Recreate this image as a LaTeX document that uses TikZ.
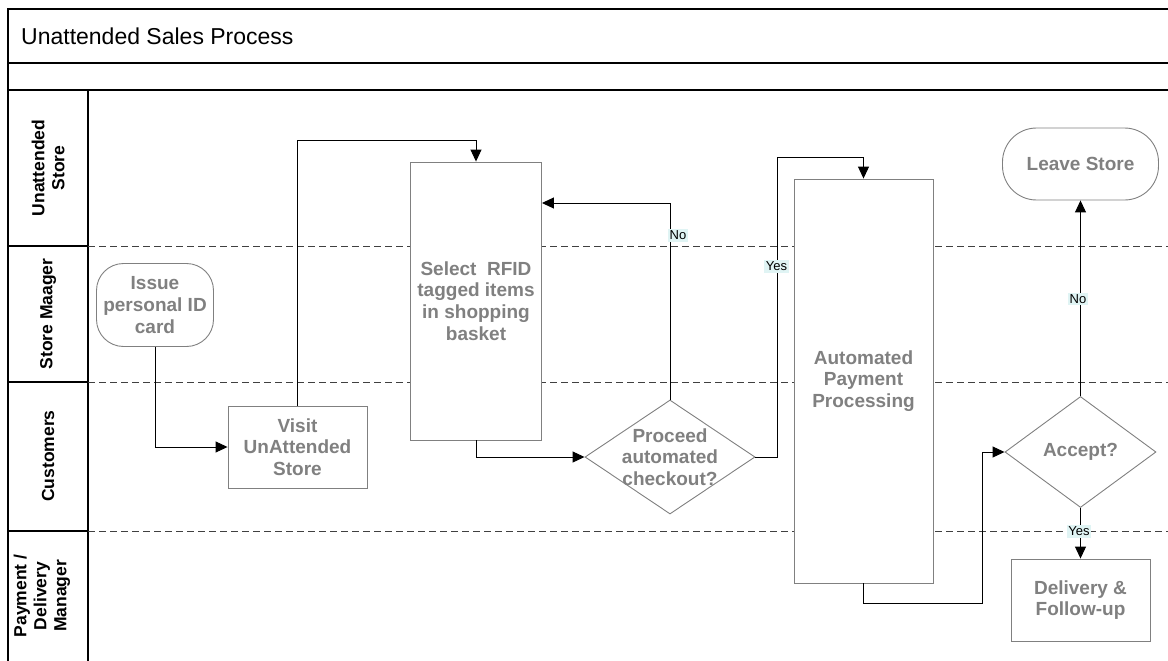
\documentclass[tikz,border=0pt]{standalone}
\usepackage{fontspec}
\setmainfont{Liberation Sans}
\usetikzlibrary{arrows.meta,shapes.geometric}
\definecolor{boxgray}{RGB}{128,128,128}
\definecolor{txtgray}{RGB}{128,128,128}
\definecolor{lblfill}{RGB}{224,244,244}
\definecolor{dashgray}{RGB}{64,64,64}
\begin{document}
\begin{tikzpicture}[x=1pt,y=-1pt,
  frame/.style={line width=1.1pt,black},
  lanesep/.style={dashgray,line width=1pt,dash pattern=on 7pt off 4pt},
  lanename/.style={rotate=90,font=\fontsize{17.5}{20}\selectfont\bfseries,align=center,inner sep=0pt},
  procbox/.style={draw=boxgray,fill=white,line width=0.9pt,inner sep=2pt,align=center,
    text=txtgray,font=\fontsize{19}{21.7}\selectfont\bfseries},
  termbox/.style={procbox},
  decbox/.style={draw=boxgray,fill=white,line width=0.9pt,diamond,inner sep=0pt},
  dectext/.style={align=center,text=txtgray,inner sep=0pt,font=\fontsize{19}{21.7}\selectfont\bfseries},
  flow/.style={line width=1pt,-{Triangle[length=12pt,width=11pt]}},
  flowlabel/.style={fill=lblfill,font=\fontsize{13}{13}\selectfont,inner sep=1.5pt}
]
\useasboundingbox (0,0) rectangle (1168,661);

% pool frame, title rows and lane name column
\draw[frame] (8,661) -- (8,9) -- (1168,9);
\draw[frame] (8,63) -- (1168,63);
\draw[frame] (8,90) -- (1168,90);
\draw[frame] (88,90) -- (88,661);
\draw[frame] (8,246) -- (88,246);
\draw[frame] (8,382) -- (88,382);
\draw[frame] (8,531) -- (88,531);

% lane separators
\draw[lanesep] (88,246) -- (1168,246);
\draw[lanesep] (88,382) -- (1168,382);
\draw[lanesep] (88,531) -- (1168,531);

\node[anchor=west,inner sep=0pt,font=\fontsize{23}{27}\selectfont] (title) at (21,36) {Unattended Sales Process};

\node[lanename] (laneA) at (48,168) {Unattended\\Store};
\node[lanename] (laneB) at (48,314) {Store Maager};
\node[lanename] (laneC) at (48,456) {Customers};
\node[lanename] (laneD) at (42,596) {Payment /\\Delivery\\Manager};

% process steps
\node[termbox,rounded corners=27pt,minimum width=117pt,minimum height=83pt] (issue) at (155,305) {Issue\\personal ID\\card};
\node[procbox,minimum width=139pt,minimum height=82pt] (visit) at (297.5,447) {Visit\\UnAttended\\Store};
\node[procbox,minimum width=131pt,minimum height=278pt] (sel) at (476,301) {Select~~RFID\\tagged items\\in shopping\\basket};
\node[decbox,minimum width=170pt,minimum height=114pt] (proc) at (670,457) {};
\node[dectext] (proctext) at (proc.center) {Proceed\\automated\\checkout?};
\node[procbox,minimum width=139pt,minimum height=404pt] (auto) at (863.5,381) {Automated\\Payment\\Processing};
\node[termbox,rounded corners=34pt,minimum width=156pt,minimum height=72pt] (leave) at (1080.5,164) {Leave Store};
\node[decbox,minimum width=151pt,minimum height=111pt] (acc) at (1080.5,452) {};
\node[dectext] (acctext) at (acc.center) {Accept?};
\node[procbox,minimum width=139pt,minimum height=82pt] (deliv) at (1080.5,600) {Delivery \&\\Follow-up};

% connectors
\draw[flow] (issue.south) |- (visit.west);
\draw[flow] (visit.north) -- ++(0,-265) -| (sel.north);
\draw[flow] (sel.south) |- (proc.west);
\draw[flow] (proc.north) |- ([yshift=98pt]sel.east);
\draw[flow] (proc.east) -- ++(21.7,0) |- ([yshift=20.7pt]auto.north) -- (auto.north);
\draw[flow] (auto.south) -- ++(0,20) -| ([xshift=-22pt]acc.west) -- (acc.west);
\draw[flow] (acc.north) -- (leave.south);
\draw[flow] (acc.south) -- (deliv.north);

% branch labels
\node[flowlabel] (noA) at (678,235.5) {No};
\node[flowlabel] (yesA) at (776.5,266.5) {Yes};
\node[flowlabel] (noB) at (1078,299) {No};
\node[flowlabel] (yesB) at (1079,531.5) {Yes};
\end{tikzpicture}
\end{document}
